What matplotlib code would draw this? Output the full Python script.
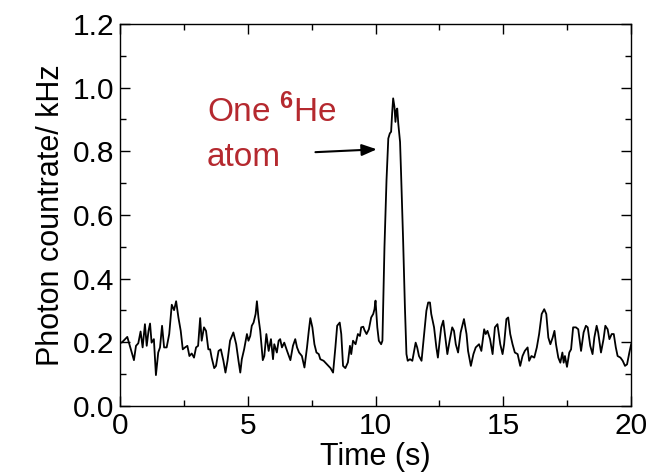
import matplotlib
matplotlib.use("Agg")
import matplotlib.pyplot as plt
from matplotlib.ticker import MultipleLocator

plt.rcParams["font.family"] = ["Liberation Sans", "DejaVu Sans"]
plt.rcParams["mathtext.fontset"] = "custom"
plt.rcParams["mathtext.rm"] = "Liberation Sans"
plt.rcParams["mathtext.bf"] = "Liberation Sans:bold"

# Trace: time (s) and photon count rate (kHz)
time_s = [
    0.0, 0.07, 0.29, 0.39, 0.55, 0.63, 0.72, 0.81, 0.89, 0.98,
    1.05, 1.12, 1.18, 1.24, 1.33, 1.41, 1.50, 1.57, 1.65, 1.73,
    1.83, 1.93, 2.03, 2.12, 2.20, 2.29, 2.38, 2.46, 2.55, 2.64,
    2.72, 2.81, 2.90, 2.98, 3.06, 3.14, 3.20, 3.29, 3.37, 3.46,
    3.53, 3.59, 3.69, 3.76, 3.86, 3.95, 4.05, 4.13, 4.21, 4.31,
    4.44, 4.55, 4.64, 4.71, 4.77, 4.86, 4.97, 5.03, 5.10, 5.16,
    5.23, 5.31, 5.36, 5.42, 5.49, 5.59, 5.65, 5.73, 5.82, 5.91,
    5.99, 6.04, 6.14, 6.21, 6.27, 6.34, 6.43, 6.54, 6.67, 6.77,
    6.86, 6.93, 7.01, 7.12, 7.22, 7.32, 7.39, 7.45, 7.53, 7.61,
    7.69, 7.78, 7.84, 7.97, 8.10, 8.24, 8.34, 8.43, 8.50, 8.60,
    8.66, 8.73, 8.82, 8.92, 9.00, 9.05, 9.12, 9.22, 9.31, 9.39,
    9.44, 9.52, 9.57, 9.65, 9.74, 9.83, 9.91, 9.96, 10.0, 10.07,
    10.13, 10.22, 10.27, 10.35, 10.43, 10.50, 10.56, 10.61, 10.65, 10.69,
    10.74, 10.78, 10.82, 10.85, 10.89, 10.96, 11.00, 11.08, 11.15, 11.21,
    11.26, 11.35, 11.44, 11.50, 11.57, 11.63, 11.70, 11.80, 11.90, 11.99,
    12.06, 12.13, 12.18, 12.29, 12.38, 12.44, 12.51, 12.57, 12.65, 12.70,
    12.81, 12.91, 13.00, 13.07, 13.14, 13.23, 13.33, 13.46, 13.56, 13.62,
    13.73, 13.83, 13.92, 14.05, 14.14, 14.25, 14.31, 14.38, 14.48, 14.58,
    14.67, 14.77, 14.88, 14.97, 15.03, 15.12, 15.19, 15.27, 15.36, 15.45,
    15.56, 15.66, 15.75, 15.84, 15.95, 16.01, 16.10, 16.21, 16.31, 16.40,
    16.50, 16.60, 16.68, 16.76, 16.84, 16.93, 17.00, 17.06, 17.15, 17.23,
    17.31, 17.36, 17.41, 17.49, 17.58, 17.65, 17.73, 17.84, 17.93, 18.04,
    18.14, 18.23, 18.30, 18.40, 18.49, 18.56, 18.65, 18.71, 18.82, 18.92,
    18.99, 19.08, 19.15, 19.24, 19.32, 19.40, 19.47, 19.58, 19.67, 19.76,
    19.84, 19.93, 20.0,
]
countrate_khz = [
    0.200, 0.199, 0.217, 0.189, 0.144, 0.189, 0.197, 0.234, 0.184, 0.257,
    0.189, 0.236, 0.259, 0.199, 0.210, 0.097, 0.168, 0.184, 0.252, 0.184,
    0.184, 0.226, 0.318, 0.301, 0.329, 0.278, 0.236, 0.178, 0.184, 0.189,
    0.157, 0.165, 0.152, 0.184, 0.189, 0.276, 0.205, 0.247, 0.236, 0.178,
    0.178, 0.152, 0.119, 0.126, 0.173, 0.178, 0.142, 0.105, 0.142, 0.205,
    0.231, 0.194, 0.142, 0.105, 0.147, 0.178, 0.226, 0.205, 0.220, 0.252,
    0.262, 0.289, 0.329, 0.278, 0.236, 0.144, 0.157, 0.226, 0.173, 0.210,
    0.147, 0.194, 0.168, 0.205, 0.210, 0.184, 0.199, 0.173, 0.144, 0.189,
    0.210, 0.184, 0.168, 0.157, 0.121, 0.184, 0.236, 0.276, 0.247, 0.194,
    0.168, 0.163, 0.147, 0.142, 0.131, 0.119, 0.105, 0.184, 0.252, 0.262,
    0.226, 0.126, 0.119, 0.137, 0.189, 0.163, 0.205, 0.194, 0.226, 0.220,
    0.247, 0.249, 0.238, 0.226, 0.241, 0.278, 0.289, 0.304, 0.331, 0.247,
    0.205, 0.194, 0.205, 0.499, 0.709, 0.840, 0.856, 0.861, 0.919, 0.966,
    0.940, 0.892, 0.929, 0.934, 0.887, 0.829, 0.730, 0.520, 0.310, 0.163,
    0.142, 0.147, 0.142, 0.168, 0.199, 0.184, 0.157, 0.142, 0.226, 0.299,
    0.325, 0.325, 0.289, 0.247, 0.184, 0.152, 0.205, 0.247, 0.268, 0.236,
    0.163, 0.210, 0.247, 0.236, 0.194, 0.168, 0.231, 0.273, 0.226, 0.173,
    0.126, 0.163, 0.184, 0.194, 0.173, 0.241, 0.226, 0.236, 0.210, 0.163,
    0.247, 0.257, 0.194, 0.163, 0.194, 0.273, 0.278, 0.226, 0.194, 0.168,
    0.163, 0.126, 0.157, 0.173, 0.184, 0.142, 0.157, 0.152, 0.184, 0.226,
    0.289, 0.304, 0.289, 0.215, 0.194, 0.215, 0.236, 0.194, 0.152, 0.136,
    0.168, 0.136, 0.157, 0.123, 0.168, 0.178, 0.247, 0.247, 0.241, 0.173,
    0.231, 0.252, 0.247, 0.189, 0.163, 0.215, 0.252, 0.231, 0.168, 0.210,
    0.252, 0.241, 0.210, 0.226, 0.226, 0.184, 0.157, 0.152, 0.142, 0.126,
    0.131, 0.168, 0.194,
]

fig = plt.figure(figsize=(6.48, 4.76), dpi=100)
ax = fig.add_axes([0.185, 0.147, 0.789, 0.803])

ax.plot(time_s, countrate_khz, color="black", lw=1.3)

ax.set_xlim(0, 20)
ax.set_ylim(0, 1.2)
ax.xaxis.set_major_locator(MultipleLocator(5))
ax.xaxis.set_minor_locator(MultipleLocator(2.5))
ax.yaxis.set_major_locator(MultipleLocator(0.2))
ax.yaxis.set_minor_locator(MultipleLocator(0.1))
ax.yaxis.set_major_formatter(matplotlib.ticker.FormatStrFormatter("%.1f"))
ax.tick_params(which="both", direction="in", top=True, right=True,
               labelsize=21.5, width=1.0)
ax.tick_params(which="major", length=7, pad=4)
ax.tick_params(which="minor", length=4)
for s in ax.spines.values():
    s.set_linewidth(1.0)

ax.set_xlabel("Time (s)", fontsize=22, labelpad=2)
ax.set_ylabel("Photon countrate/ kHz", fontsize=22, labelpad=5)

red = "#b5292f"
ax.text(3.4, 0.891, r"One $^{\mathbf{6}}$He", color=red, fontsize=24,
        ha="left", va="baseline")
ax.text(3.4, 0.753, "atom", color=red, fontsize=24, ha="left", va="baseline")
ax.annotate("", xy=(10.05, 0.806), xytext=(7.65, 0.797),
            arrowprops=dict(arrowstyle="-|>,head_length=0.9,head_width=0.35",
                            color="black", lw=1.5, shrinkA=0, shrinkB=0))

fig.savefig("out.png", dpi=100)
